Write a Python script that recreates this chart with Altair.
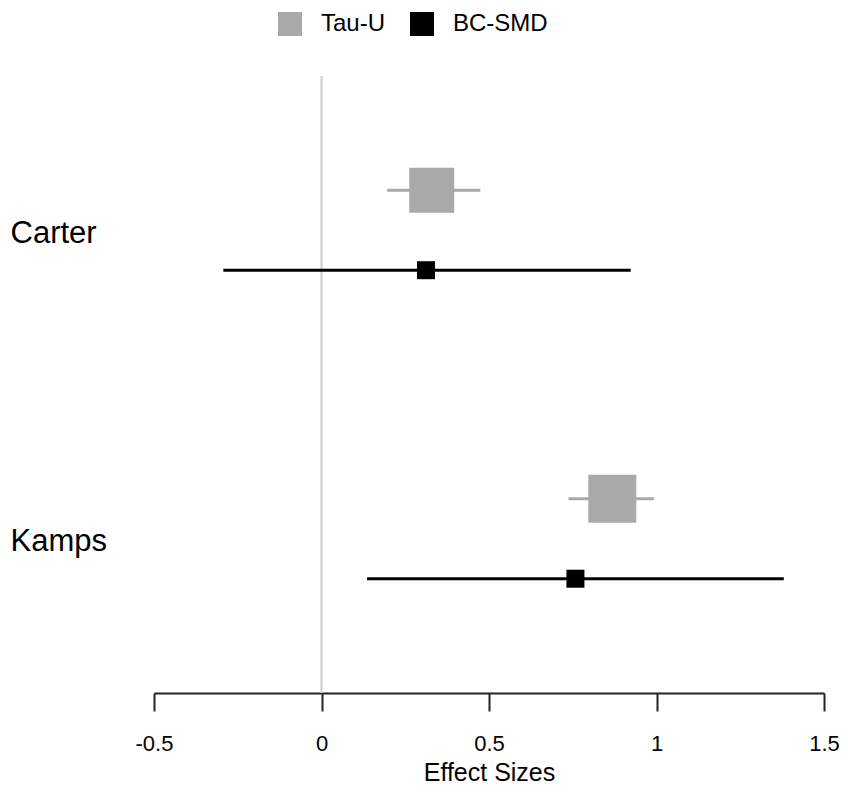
import altair as alt
import pandas as pd

studies = ["Carter", "Carter", "Kamps", "Kamps"]
measures = ["Tau-U", "BC-SMD", "Tau-U", "BC-SMD"]
estimate = [0.329, 0.312, 0.868, 0.758]
ci_low = [0.196, -0.293, 0.737, 0.136]
ci_high = [0.474, 0.923, 0.992, 1.380]
marker_area = [2025, 324, 2304, 324]

x_ticks = [-0.5, 0, 0.5, 1, 1.5]
study_order = ["Carter", "Kamps"]
measure_order = ["Tau-U", "BC-SMD"]
measure_colors = ["#a9a9a9", "#000000"]

df = pd.DataFrame({
    "study": studies,
    "measure": measures,
    "est": estimate,
    "lo": ci_low,
    "hi": ci_high,
    "area": marker_area,
})

FONT = "Liberation Sans"

xscale = alt.Scale(domain=[-0.5, 1.5], nice=False, zero=False)
yscale = alt.Scale(domain=study_order, paddingInner=0, paddingOuter=0)
yoff = alt.YOffset("measure:N", sort=measure_order,
                   scale=alt.Scale(paddingInner=0, paddingOuter=0.93))
color = alt.Color("measure:N", sort=measure_order,
                  scale=alt.Scale(domain=measure_order, range=measure_colors),
                  legend=alt.Legend(
                      title=None, orient="none", legendX=124, legendY=-64,
                      direction="horizontal", symbolType="square",
                      symbolSize=576, symbolStrokeWidth=0, labelFontSize=24,
                      labelFont=FONT, labelColor="#000000", labelOffset=19,
                      columnPadding=24, padding=0))

xaxis = alt.Axis(values=x_ticks, grid=False, title="Effect Sizes",
                 labelExpr="toString(datum.value)",
                 domainColor="#222222", domainWidth=2,
                 tickColor="#222222", tickWidth=2, tickSize=18,
                 labelFontSize=22, labelFont=FONT, labelColor="#000000",
                 labelBaseline="alphabetic", labelPadding=39,
                 labelFlush=False, labelOverlap=False,
                 titleFontSize=25, titleFont=FONT, titleColor="#000000",
                 titleFontWeight="normal", titleBaseline="alphabetic", titleY=87)
yaxis = alt.Axis(title=None, domain=False, ticks=False, grid=False,
                 labelAlign="left", labelPadding=144, labelFontSize=31,
                 labelFont=FONT, labelColor="#000000",
                 labelBaseline="alphabetic", labelOffset=12.5)

zero_rule = alt.Chart(df).mark_rule(color="#d3d3d3", strokeWidth=1.5).encode(
    x=alt.datum(0, scale=xscale)
)

bars = alt.Chart(df).mark_rule(strokeWidth=3).encode(
    x=alt.X("lo:Q", scale=xscale, axis=xaxis),
    x2="hi:Q",
    y=alt.Y("study:N", scale=yscale, axis=yaxis, sort=study_order),
    yOffset=yoff,
    color=color,
)

squares = alt.Chart(df).mark_square(opacity=1, filled=True, strokeWidth=0).encode(
    x=alt.X("est:Q", scale=xscale),
    y=alt.Y("study:N", scale=yscale, sort=study_order),
    yOffset=yoff,
    color=alt.Color("measure:N", sort=measure_order,
                    scale=alt.Scale(domain=measure_order, range=measure_colors)),
    size=alt.Size("area:Q", scale=None, legend=None),
)

chart = alt.layer(zero_rule, bars, squares).properties(
    width=670, height=617,
    autosize=alt.AutoSizeParams(type="none"),
    padding={"left": 146, "top": 68, "right": 16, "bottom": 93},
    background="white",
).configure_view(stroke=None)

chart.save("out.html", embed_options={"renderer": "svg", "actions": False})
